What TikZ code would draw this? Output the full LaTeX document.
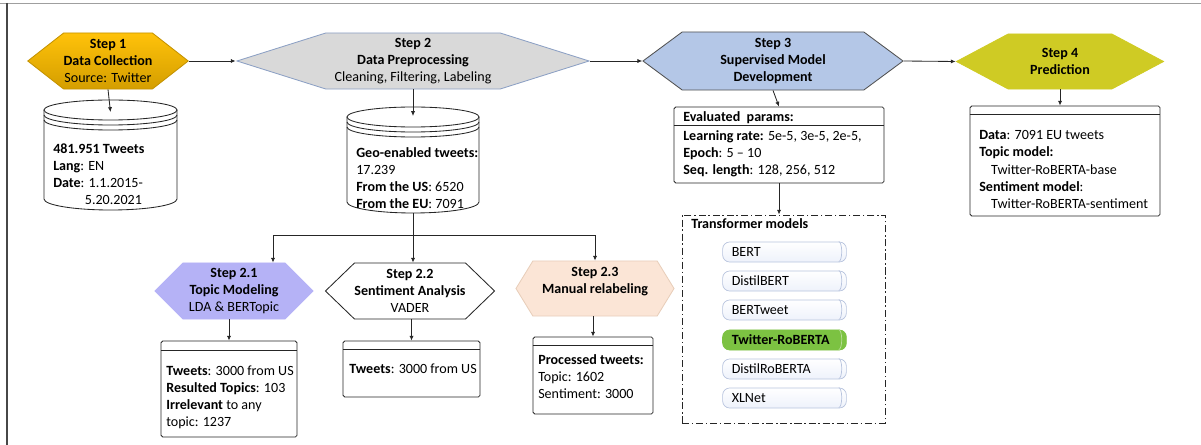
\documentclass[tikz,border=0pt]{standalone}
\usepackage{fontspec}
\setmainfont{Carlito}
\usetikzlibrary{shapes.symbols,arrows.meta,calc}
\definecolor{ink}{RGB}{38,38,38}
\definecolor{goldA}{RGB}{255,194,10}
\definecolor{goldB}{RGB}{212,158,0}
\definecolor{goldedge}{RGB}{196,146,0}
\definecolor{greyfill}{RGB}{217,217,217}
\definecolor{greyedge}{RGB}{140,160,196}
\definecolor{stepblue}{RGB}{180,199,231}
\definecolor{stepolive}{RGB}{207,203,36}
\definecolor{lavender}{RGB}{181,178,246}
\definecolor{peach}{RGB}{251,229,214}
\definecolor{peachedge}{RGB}{232,206,186}
\definecolor{pillfill}{RGB}{238,242,251}
\definecolor{pilledge}{RGB}{184,196,222}
\definecolor{pillgreen}{RGB}{124,194,66}

\begin{document}
\begin{tikzpicture}[x=0.025cm,y=-0.025cm,font=\fontsize{10}{12.1}\selectfont,
  >={Latex[length=3.4pt,width=3pt]},
  hexstep/.style={signal,signal to=east and west,align=center,inner sep=0pt,line width=0.6pt},
  infobox/.style={draw=ink,line width=0.6pt,rounded corners=1.2pt,fill=white},
  txt/.style={anchor=west,align=left,inner sep=0pt},
  dbline/.style={draw=ink,fill=white,line width=0.6pt},
  pill/.style={draw=pilledge,line width=0.5pt,rounded corners=5pt,top color=white,bottom color=pillfill,
    minimum width=3.075cm,minimum height=0.5cm,text width=75pt,align=left,inner xsep=6.5pt,inner ysep=0pt},
  conn/.style={->,draw=ink,line width=0.6pt}]
\useasboundingbox (0,0) rectangle (1201,445);
\draw[gray!75,line width=1.2pt] (0,3.5) -- (1201,3.5);
\draw[ink!85,line width=0.9pt] (7,3) -- (7,445);

% main steps
\node[hexstep,signal pointer angle=76,top color=goldA,bottom color=goldB,draw=goldedge,
  minimum width=3.95cm,minimum height=1.4cm] (s1) at (108,61)
  {\textbf{Step 1}\\\textbf{Data Collection}\\Source: Twitter};
\node[hexstep,signal pointer angle=35,fill=greyfill,draw=greyedge,
  minimum width=8.8cm,minimum height=1.4cm] (s2) at (413,61)
  {\textbf{Step 2}\\\textbf{Data Preprocessing}\\Cleaning, Filtering, Labeling};
\node[hexstep,signal pointer angle=73,fill=stepblue,draw=ink!80,
  minimum width=6.5cm,minimum height=1.45cm] (s3) at (773,61)
  {\textbf{Step 3}\\\textbf{Supervised Model}\\\textbf{Development}};
\node[hexstep,signal pointer angle=56,fill=stepolive,draw=stepolive,
  minimum width=5.175cm,minimum height=1.375cm] (s4) at (1060,61.5)
  {\textbf{Step 4}\\\textbf{Prediction}};
\draw[conn] (s1.east) -- (s2.west);
\draw[conn] (s2.east) -- (s3.west);
\draw[conn] (s3.east) -- (s4.west);

% data stores
\draw[dbline] (44,110) -- (44,199) arc[start angle=180,end angle=0,x radius=66.5,y radius=11] -- (177,110);
\draw[dbline] (110.5,110) ellipse[x radius=66.5,y radius=10];
\draw[dbline,fill=none] (44,115) arc[start angle=180,end angle=0,x radius=66.5,y radius=10];
\draw[dbline,fill=none] (44,120) arc[start angle=180,end angle=0,x radius=66.5,y radius=10];
\coordinate (db1) at (110.5,112);
\node[txt] (db1txt) at (53,174.5)
  {\textbf{481.951 Tweets}\\\textbf{Lang}: EN\\\textbf{Date}: 1.1.2015-\\\hspace{22.5pt}5.20.2021};
\draw[dbline] (347,117) -- (347,202) arc[start angle=180,end angle=0,x radius=66,y radius=11] -- (479,117);
\draw[dbline] (413,117) ellipse[x radius=66,y radius=10];
\draw[dbline,fill=none] (347,122) arc[start angle=180,end angle=0,x radius=66,y radius=10];
\draw[dbline,fill=none] (347,127) arc[start angle=180,end angle=0,x radius=66,y radius=10];
\coordinate (db2) at (413,116);
\coordinate (db2b) at (413,213);
\node[txt] (db2txt) at (356,178.5)
  {\textbf{Geo-enabled tweets:}\\17.239\\\textbf{From the US}: 6520\\\textbf{From the EU}: 7091};
\draw[conn] (s1.south) -- (db1);
\draw[conn] (s2.south) -- (db2);

% step 3 and 4 boxes
\node[infobox,minimum width=5.25cm,minimum height=1.9cm] (bEval) at (779,145) {};
\draw[ink] ($(bEval.north west)+(0,19)$) -- ($(bEval.north east)+(0,19)$);
\node[txt] (evalhead) at (683,117.5) {\textbf{Evaluated\ \ params:}};
\node[txt] (evaltxt) at (683,153.5)
  {\textbf{Learning rate:} 5e-5, 3e-5, 2e-5,\\\textbf{Epoch}: 5 -- 10\\\textbf{Seq. length}: 128, 256, 512};
\node[infobox,minimum width=4.75cm,minimum height=2.75cm] (bPred) at (1065,161) {};
\draw[ink] ($(bPred.north west)+(0,9)$) -- ($(bPred.north east)+(0,9)$);
\node[txt] (predtxt) at (979,169.5)
  {\textbf{Data}: 7091 EU tweets\\\textbf{Topic model:}\\\hspace{8.5pt}Twitter-RoBERTA-base\\
   \textbf{Sentiment model}:\\\hspace{8.5pt}Twitter-RoBERTA-sentiment};
\draw[conn] (s3.south) -- (bEval.north);
\draw[conn] (s4.south) -- (s4.south |- bPred.north);

% transformer models
\node[draw=ink,line width=0.6pt,dash pattern=on 5pt off 2pt on 1pt off 2pt,
  minimum width=5.075cm,minimum height=5.2cm] (tbox) at (783.5,319) {};
\node[txt] (ttitle) at (691,224) {\textbf{Transformer models}};
\draw[conn] (bEval.south) -- (bEval.south |- tbox.north);
\node[pill] (pBERT) at (784.5,252) {BERT};
\node[pill] (pDistil) at (784.5,281) {DistilBERT};
\node[pill] (pTweet) at (784.5,310) {BERTweet};
\node[pill,draw=pillgreen,top color=pillgreen,bottom color=pillgreen] (pTwRo) at (784.5,340)
  {\textbf{Twitter-RoBERTA}};
\node[pill] (pDistilRo) at (784.5,369) {DistilRoBERTA};
\node[pill] (pXL) at (784.5,398) {XLNet};
\foreach \p in {pBERT,pDistil,pTweet,pDistilRo,pXL}
  \draw[pilledge,line width=0.5pt] ($(\p.north east)+(-8,0)$) arc[start angle=270,end angle=450,x radius=3,y radius=10];
\draw[pillgreen!55!white,line width=0.5pt] ($(pTwRo.north east)+(-8,0)$) arc[start angle=270,end angle=450,x radius=3,y radius=10];

% sub steps
\node[hexstep,signal pointer angle=90,fill=lavender,draw=lavender,
  minimum width=3.95cm,minimum height=1.4cm] (s21) at (234,291)
  {\textbf{Step 2.1}\\\textbf{Topic Modeling}\\LDA \& BERTopic};
\node[hexstep,signal pointer angle=88,fill=white,draw=ink,
  minimum width=3.95cm,minimum height=1.4cm] (s22) at (410,291)
  {\textbf{Step 2.2}\\\textbf{Sentiment Analysis}\\VADER};
\node[hexstep,signal pointer angle=117,fill=peach,draw=peachedge,
  minimum width=3.95cm,minimum height=1.375cm] (s23) at (595,288.5)
  {\textbf{Step 2.3}\\\textbf{Manual relabeling}\\\mbox{}};
\coordinate (split) at (413,235);
\draw[ink,line width=0.6pt] (db2b) -- (split);
\draw[conn] (split) -| ($(s21.north)+(39,0)$);
\draw[conn] (split) -- (split |- s22.north);
\draw[conn] (split) -| (s23.north);

\node[infobox,minimum width=3.4cm,minimum height=2.4cm] (b21) at (229,389) {};
\draw[ink] ($(b21.north west)+(0,10)$) -- ($(b21.north east)+(0,10)$);
\node[txt] (b21txt) at (166,397)
  {\textbf{Tweets}: 3000 from US\\\textbf{Resulted Topics}: 103\\\textbf{Irrelevant} to any\\topic: 1237};
\node[infobox,minimum width=3.425cm,minimum height=1.4cm] (b22) at (411.5,369) {};
\draw[ink] ($(b22.north west)+(0,9)$) -- ($(b22.north east)+(0,9)$);
\node[txt] (b22txt) at (349,368.5) {\textbf{Tweets}: 3000 from US};
\node[infobox,minimum width=3.0cm,minimum height=1.925cm] (b23) at (593,375.5) {};
\draw[ink] ($(b23.north west)+(0,9)$) -- ($(b23.north east)+(0,9)$);
\node[txt] (b23txt) at (538,376.5) {\textbf{Processed tweets:}\\Topic: 1602\\Sentiment: 3000};
\draw[conn] (b21.north |- s21.south) -- (b21.north);
\draw[conn] (b22.north |- s22.south) -- (b22.north);
\draw[conn] (b23.north |- s23.south) -- (b23.north);
\end{tikzpicture}
\end{document}
